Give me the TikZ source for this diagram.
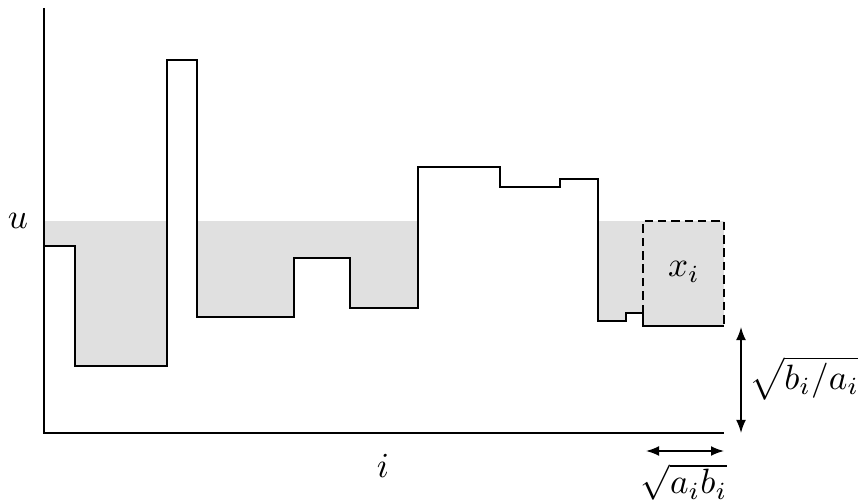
\documentclass[tikz,border=0pt]{standalone}
\usepackage{amsmath,amssymb}
\usepackage{tikz}
\usetikzlibrary{positioning,arrows.meta}

\newcommand{\levelpath}{(44,246) -| (75,366) -| (167,60) -| (197,317) -| (294,258) -| (350,308) -| (418,167) -| (500,187) -| (560,179) -| (598,321) -| (626,313) -| (643,326) -- (724,326)}

\begin{document}
\begin{tikzpicture}[
x=0.01cm, y=-0.01cm,
line/.style={line width=0.42pt},
water/.style={fill=black!12},
box/.style={line width=0.42pt, dash pattern=on 2.4pt off 1.4pt},
arrow/.style={{Latex[length=1.3mm]}-{Latex[length=1.3mm]}, line width=0.42pt},
lbl/.style={inner sep=1pt}
]
\useasboundingbox (0,0) rectangle (858,504);

\coordinate (origin) at (44,433);
\coordinate (ytop) at (44,8);
\coordinate (xend) at (724,433);

% water level u
\fill[water] (44,221) rectangle (724,433);
\fill[white] (44,433) -- \levelpath -- (724,433) -- cycle;

% axes and profile
\draw[line] (ytop) -- (origin) -- (xend);
\draw[line] \levelpath;

% bucket of x_i
\coordinate (bl) at (643,313);
\coordinate (tl) at (643,221);
\coordinate (tr) at (724,221);
\coordinate (br) at (724,326);
\draw[box] (bl) -- (tl) -- (tr) -- (br);
\node[lbl] (xi) at (684,272) {$x_i$};

\node[lbl] (u) at (18,221) {$u$};
\node[lbl] (i) at (383,466) {$i$};

% dimensions
\coordinate (vtop) at (741,327);
\coordinate (vbot) at (741,433);
\draw[arrow] (vtop) -- (vbot);
\node[lbl, anchor=west] (hgt) at (745,378) {$\sqrt{b_i/a_i}$};

\coordinate (hl) at (646,451);
\coordinate (hr) at (724,451);
\draw[arrow] (hl) -- (hr);
\node[lbl] (wdt) at (684,482) {$\sqrt{a_i b_i}$};
\end{tikzpicture}
\end{document}
